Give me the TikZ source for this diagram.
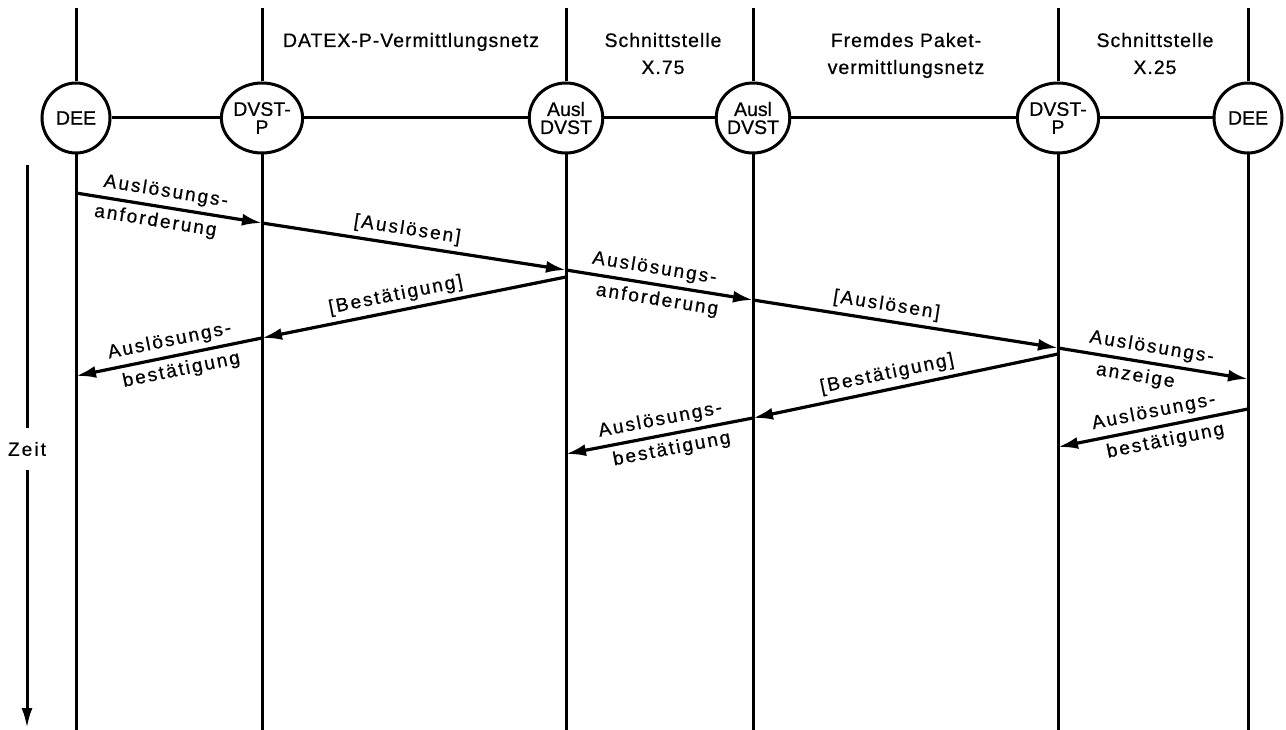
\documentclass[tikz,border=0pt]{standalone}
\usepackage{fontspec}
\setmainfont{Liberation Sans}[FakeBold=0.6]
\newfontfamily\toplabfont[LetterSpace=5,FakeBold=0.6]{Liberation Sans}
\newfontfamily\msglabfont[LetterSpace=11,FakeBold=0.6]{Liberation Sans}
\usetikzlibrary{arrows.meta,shapes.geometric}

\begin{document}
\begin{tikzpicture}[x=1pt,y=-1pt,
  lifeline/.style={line width=3pt},
  station/.style={draw,ellipse,line width=3pt,minimum width=68pt,minimum height=70pt,
    inner sep=0pt,align=center,font=\fontsize{19.5}{20}\selectfont,fill=white},
  msg/.style={line width=3.2pt,-{Latex[length=20pt,width=12pt]}},
  msgtext/.style={font=\msglabfont\fontsize{19}{21}\selectfont,inner sep=2pt,sloped},
  toptext/.style={font=\toplabfont\fontsize{19.5}{21}\selectfont,anchor=base,inner sep=0pt},
  timeaxis/.style={line width=3pt}]
\useasboundingbox (0,0) rectangle (1286,730);

% stations on the horizontal connection line
\node[station] (dee1)  at (76,118)   {DEE};
\node[station] (dvst1) at (262,118)  {DVST-\\[-2pt]P};
\node[station] (ausl1) at (566,118)  {Ausl\\[-2pt]DVST};
\node[station] (ausl2) at (753,118)  {Ausl\\[-2pt]DVST};
\node[station] (dvst2) at (1058,118) {DVST-\\[-2pt]P};
\node[station] (dee2)  at (1248,118) {DEE};

\draw[lifeline] (dee1) -- (dvst1) -- (ausl1) -- (ausl2) -- (dvst2) -- (dee2);

% lifelines above and below each station
\foreach \n/\x in {dee1/76,dvst1/262,ausl1/566,ausl2/753,dvst2/1058,dee2/1248}{
  \coordinate (\n-top) at (\x,8);
  \coordinate (\n-bot) at (\x,730);
  \draw[lifeline] (\n-top) -- (\n.north);
  \draw[lifeline] (\n.south) -- (\n-bot);
}

% network sections
\node[toptext] (lDatex) at (411,47) {DATEX-P-Vermittlungsnetz};
\node[toptext] (lS1a) at (663,47) {Schnittstelle};
\node[toptext] (lS1b) at (663,74) {X.75};
\node[toptext] (lF1)  at (906,47) {Fremdes Paket-};
\node[toptext] (lF2)  at (906,74) {vermittlungsnetz};
\node[toptext] (lS2a) at (1155,47) {Schnittstelle};
\node[toptext] (lS2b) at (1155,74) {X.25};

% message points on the lifelines
\coordinate (a1) at (76,193);
\coordinate (b1) at (262,223);
\coordinate (c1) at (566,270);
\coordinate (d1) at (753,300);
\coordinate (e1) at (1058,348);
\coordinate (f1) at (1248,379);
\coordinate (f2) at (1248,409);
\coordinate (e2) at (1058,447);
\coordinate (e3) at (1058,354);
\coordinate (d3) at (753,418);
\coordinate (c3) at (566,454);
\coordinate (c4) at (566,277);
\coordinate (b4) at (262,338);
\coordinate (a4) at (76,376);

% release request towards the remote DEE
\draw[msg] (a1) -- (b1)
  node[msgtext,pos=0.47,above=3pt] {Auslösungs-}
  node[msgtext,pos=0.44,below=3pt] {anforderung};
\draw[msg] (b1) -- (c1)
  node[msgtext,pos=0.47,above=3pt] {[Auslösen]};
\draw[msg] (c1) -- (d1)
  node[msgtext,pos=0.46,above=3pt] {Auslösungs-}
  node[msgtext,pos=0.5,below=3pt] {anforderung};
\draw[msg] (d1) -- (e1)
  node[msgtext,pos=0.43,above=3pt] {[Auslösen]};
\draw[msg] (e1) -- (f1)
  node[msgtext,pos=0.48,above=3pt] {Auslösungs-}
  node[msgtext,pos=0.42,below=3pt] {anzeige};

% confirmations
\draw[msg] (f2) -- (e2)
  node[msgtext,pos=0.48,above=3pt] {Auslösungs-}
  node[msgtext,pos=0.45,below=3pt] {bestätigung};
\draw[msg] (e3) -- (d3)
  node[msgtext,pos=0.55,above=3pt] {[Bestätigung]};
\draw[msg] (d3) -- (c3)
  node[msgtext,pos=0.48,above=3pt] {Auslösungs-}
  node[msgtext,pos=0.45,below=3pt] {bestätigung};
\draw[msg] (c4) -- (b4)
  node[msgtext,pos=0.55,above=3pt] {[Bestätigung]};
\draw[msg] (b4) -- (a4)
  node[msgtext,pos=0.48,above=3pt] {Auslösungs-}
  node[msgtext,pos=0.45,below=3pt] {bestätigung};

% time axis
\coordinate (ztop) at (27,165);
\coordinate (zbot) at (27,728);
\node[font=\msglabfont\fontsize{19}{21}\selectfont,inner xsep=0pt,inner ysep=14pt] (zeit) at (27,449) {Zeit};
\draw[timeaxis] (ztop) -- (zeit);
\draw[timeaxis,-{Latex[length=20pt,width=11pt]}] (zeit) -- (zbot);
\end{tikzpicture}
\end{document}
